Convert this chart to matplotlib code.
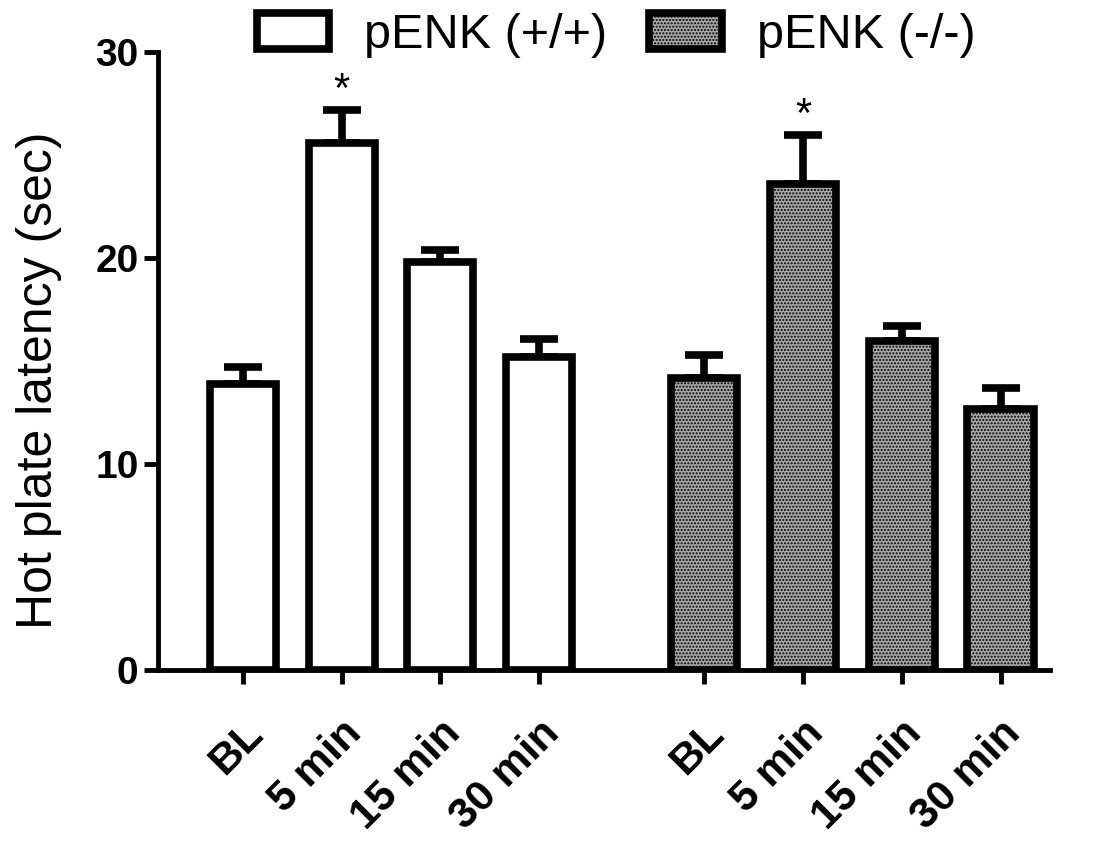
import matplotlib
matplotlib.use("Agg")
import matplotlib.pyplot as plt
import matplotlib.transforms as mtransforms
import numpy as np

plt.rcParams['font.family'] = ['Liberation Sans', 'DejaVu Sans']
plt.rcParams['hatch.linewidth'] = 1.0

categories = ["BL", "5 min", "15 min", "30 min"]
groups = ["pENK (+/+)", "pENK (-/-)"]
wt_means = [13.9, 25.6, 19.8, 15.2]
wt_sem = [0.8, 1.6, 0.6, 0.9]
ko_means = [14.2, 23.6, 16.0, 12.7]
ko_sem = [1.1, 2.4, 0.7, 1.0]
significant = [False, True, False, False]

fig = plt.figure(figsize=(11.04, 8.44), dpi=100)
ax = fig.add_axes([0.143, 0.206, 0.808, 0.732])

spacing = 1.0
gap = 1.67
x_wt = np.arange(4) * spacing
x_ko = x_wt[-1] + gap + np.arange(4) * spacing
width = 0.67
lw = 5.5

b1 = ax.bar(x_wt, wt_means, width, color='white', edgecolor='black', linewidth=lw,
            zorder=3, label=groups[0])
b2 = ax.bar(x_ko, ko_means, width, color='#a8a8a8', edgecolor='black', linewidth=lw,
            hatch='.....', zorder=3, label=groups[1])

for xs, m, e in [(x_wt, wt_means, wt_sem), (x_ko, ko_means, ko_sem)]:
    ax.errorbar(xs, m, yerr=[np.zeros(len(e)), e], fmt='none', ecolor='black',
                elinewidth=lw, capsize=14, capthick=lw, zorder=2)

for xs, m, e in [(x_wt, wt_means, wt_sem), (x_ko, ko_means, ko_sem)]:
    for xi, mi, ei, s in zip(xs, m, e, significant):
        if s:
            ax.text(xi, mi + ei - 0.05, '*', ha='center', va='bottom', fontsize=30)

ax.set_ylim(0, 30)
ax.set_xlim(-0.86, x_ko[-1] + 0.5)
ax.set_yticks([0, 10, 20, 30])
ax.set_xticks(np.concatenate([x_wt, x_ko]))
ax.set_xticklabels(categories + categories, rotation=45, ha='right',
                   rotation_mode='anchor', fontsize=31, fontweight='bold')
offset = mtransforms.ScaledTranslation(10 / 100, 0, fig.dpi_scale_trans)
for lab in ax.get_xticklabels():
    lab.set_transform(lab.get_transform() + offset)
for lab in ax.get_yticklabels():
    lab.set_fontsize(28)
    lab.set_fontweight('bold')

for s in ['top', 'right']:
    ax.spines[s].set_visible(False)
for s in ['left', 'bottom']:
    ax.spines[s].set_linewidth(3.5)
ax.tick_params(axis='both', width=3.5, length=10, direction='out')
ax.tick_params(axis='x', pad=21)
ax.tick_params(axis='y', pad=4)

ax.set_ylabel('Hot plate latency (sec)', fontsize=36)
ax.yaxis.set_label_coords(-0.108, 0.47)

leg = fig.legend(handles=[b1, b2], labels=groups, loc='center', ncol=2,
                 bbox_to_anchor=(0.558, 0.958), frameon=False, fontsize=35,
                 handlelength=1.5, handleheight=0.75, columnspacing=0.85,
                 handletextpad=0.72)

fig.savefig('out.png', dpi=100)
